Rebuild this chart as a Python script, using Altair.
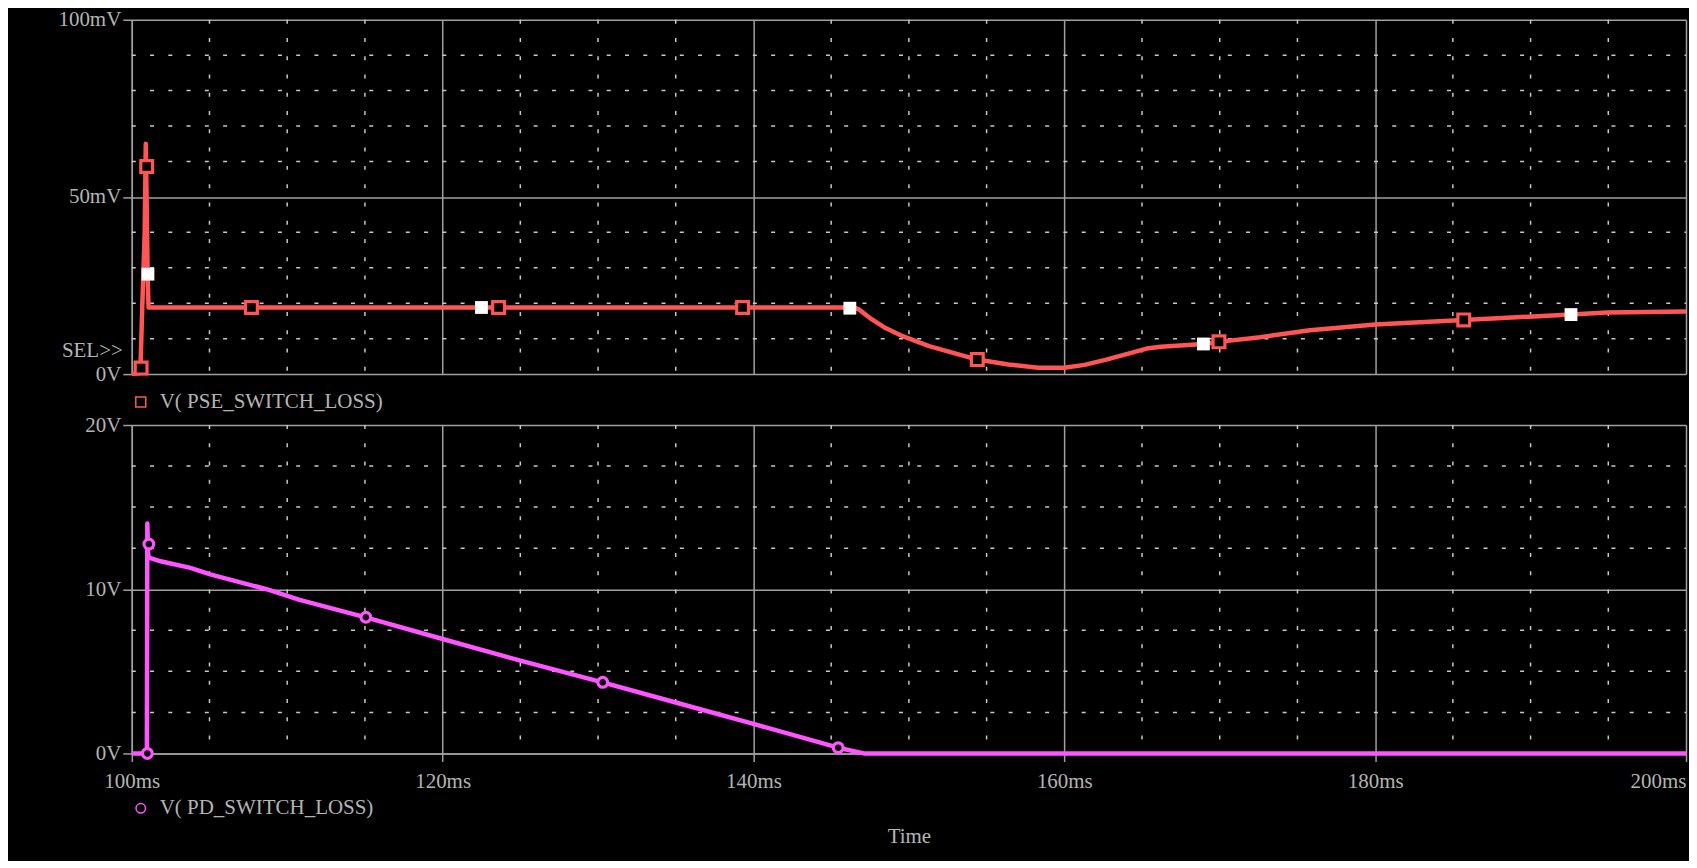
import altair as alt
import pandas as pd

# ---------------- data ----------------
# V(PSE_SWITCH_LOSS) in mV vs time in ms
pse_t = [100.0, 100.55, 100.68, 100.83, 100.9, 100.97, 101.02, 101.08, 146.5, 146.8, 147.6,
         148.5, 149.6, 151.3, 154.4, 156.4, 158.3, 160.0, 161.3, 162.7, 165.3, 166.2,
         168.95, 169.95, 172.6, 175.8, 180.0, 185.7, 192.6, 194.9, 200.0]
pse_v = [0.0, 0.3, 19.7, 40.0, 65.0, 45.0, 28.0, 18.8, 18.8, 18.2, 15.5,
         13.0, 10.7, 7.9, 4.1, 2.7, 1.8, 1.8, 2.6, 4.1, 7.2, 7.7,
         8.5, 9.1, 10.4, 12.4, 14.0, 15.3, 16.8, 17.4, 17.7]
pse_open_t = [100.6, 100.96, 107.7, 123.6, 139.3, 154.4, 169.95, 185.7]
pse_open_v = [1.7, 58.6, 18.8, 18.8, 18.8, 4.1, 9.1, 15.3]
pse_white_t = [101.04, 122.5, 146.2, 168.95, 192.6]
pse_white_v = [28.2, 18.8, 18.6, 8.5, 16.8]

# V(PD_SWITCH_LOSS) in V vs time in ms
pd_t = [100.0, 100.97, 101.0, 101.05, 101.1, 101.85, 103.77, 105.05, 108.67, 110.8,
        115.06, 120.0, 125.0, 130.3, 135.0, 140.0, 145.45, 147.1, 200.0]
pd_v = [0.0, 0.0, 14.0, 12.2, 11.93, 11.7, 11.3, 10.9, 10.0, 9.35,
        8.29, 6.97, 5.65, 4.33, 3.1, 1.8, 0.35, 0.0, 0.0]
pd_mark_t = [101.0, 101.1, 115.06, 130.3, 145.45]
pd_mark_v = [0.0, 12.75, 8.29, 4.33, 0.35]

# axes / grids
x_major = [100, 120, 140, 160, 180, 200]
x_minor = [105, 110, 115, 125, 130, 135, 145, 150, 155, 165, 170, 175, 185, 190, 195]
top_major = [0, 50, 100]
top_minor = [10, 20, 30, 40, 60, 70, 80, 90]
bot_major = [0, 10, 20]
bot_minor = [2.5, 5, 7.5, 12.5, 15, 17.5]

legend_top = ["V( PSE_SWITCH_LOSS)"]
legend_bot = ["V( PD_SWITCH_LOSS)"]
sel_label = ["SEL>>"]

# ---------------- style ----------------
RED = "#ff5555"
MAG = "#ff55ff"
GRID = "#a0a0a0"
DOT = "#c8c8c8"
TXT = "#b4b4b4"
FONT = "Liberation Serif"
FS = 21
W = 1557
H1 = 355
H2 = 329

xs = alt.Scale(domain=[100, 200], nice=False, zero=False)


def minor_layers(ydom, yminor, h):
    ys = alt.Scale(domain=ydom, nice=False)
    vx = alt.Chart(pd.DataFrame({"t": x_minor})).mark_rule(
        color=DOT, strokeWidth=1.5, strokeDash=[4, 14.3]
    ).encode(x=alt.X("t:Q", scale=xs), y=alt.value(0), y2=alt.value(h))
    hy = alt.Chart(pd.DataFrame({"v": yminor})).mark_rule(
        color=DOT, strokeWidth=1.5, strokeDash=[4, 14.3]
    ).encode(y=alt.Y("v:Q", scale=ys), x=alt.value(0), x2=alt.value(W))
    return vx, hy


# ---------------- top panel ----------------
top_x_axis = alt.Axis(values=x_major, grid=True, labels=False, ticks=False, domain=False, title=None)
top_y = alt.Y("v:Q", scale=alt.Scale(domain=[0, 100], nice=False),
              axis=alt.Axis(values=top_major, grid=True, tickSize=9, title=None,
                            labelExpr="datum.value == 0 ? '0V' : datum.value + 'mV'"))

tv, th = minor_layers([0, 100], top_minor, H1)
top_line = alt.Chart(pd.DataFrame({"t": pse_t, "v": pse_v})).mark_line(
    color=RED, strokeWidth=4.5, strokeJoin="round"
).encode(x=alt.X("t:Q", scale=xs, axis=top_x_axis), y=top_y)
top_open = alt.Chart(pd.DataFrame({"t": pse_open_t, "v": pse_open_v})).mark_point(
    shape="square", size=140, filled=True, fill="black", stroke=RED, strokeWidth=3.2, opacity=1
).encode(x=alt.X("t:Q", scale=xs), y=alt.Y("v:Q"))
top_white = alt.Chart(pd.DataFrame({"t": pse_white_t, "v": pse_white_v})).mark_point(
    shape="square", size=165, filled=True, fill="white", strokeWidth=0, opacity=1
).encode(x=alt.X("t:Q", scale=xs), y=alt.Y("v:Q"))
top_leg_sym = alt.Chart(pd.DataFrame({"name": legend_top})).mark_point(
    shape="square", size=100, filled=False, color=RED, strokeWidth=1.5, opacity=1
).encode(x=alt.value(9), y=alt.value(383))
top_leg_txt = alt.Chart(pd.DataFrame({"name": legend_top})).mark_text(
    align="left", baseline="middle", font=FONT, fontSize=FS, color=TXT
).encode(x=alt.value(28), y=alt.value(383), text="name:N")
sel_txt = alt.Chart(pd.DataFrame({"name": sel_label})).mark_text(
    align="right", baseline="middle", font=FONT, fontSize=FS, color=TXT
).encode(x=alt.value(-9), y=alt.value(332), text="name:N")

top = alt.layer(tv, th, top_line, top_open, top_white, top_leg_sym, top_leg_txt, sel_txt).properties(
    width=W, height=H1)

# ---------------- bottom panel ----------------
bot_x_axis = alt.Axis(values=x_major, grid=True, tickSize=8, title="Time", titlePadding=34,
                      labelExpr="datum.value + 'ms'",
                      labelAlign=alt.ExprRef(expr="datum.value == 200 ? 'right' : 'center'"),
                      labelPadding=9)
bot_y = alt.Y("v:Q", scale=alt.Scale(domain=[0, 20], nice=False),
              axis=alt.Axis(values=bot_major, grid=True, tickSize=9, title=None,
                            labelExpr="datum.value + 'V'"))
bv, bh = minor_layers([0, 20], bot_minor, H2)
bot_line = alt.Chart(pd.DataFrame({"t": pd_t, "v": pd_v})).mark_line(
    color=MAG, strokeWidth=4.5, strokeJoin="round"
).encode(x=alt.X("t:Q", scale=xs, axis=bot_x_axis), y=bot_y)
bot_marks = alt.Chart(pd.DataFrame({"t": pd_mark_t, "v": pd_mark_v})).mark_point(
    shape="circle", size=95, filled=True, fill="black", stroke=MAG, strokeWidth=3.2, opacity=1
).encode(x=alt.X("t:Q", scale=xs), y=alt.Y("v:Q"))
bot_leg_sym = alt.Chart(pd.DataFrame({"name": legend_bot})).mark_point(
    shape="circle", size=90, filled=False, color=MAG, strokeWidth=1.5, opacity=1
).encode(x=alt.value(9), y=alt.value(384))
bot_leg_txt = alt.Chart(pd.DataFrame({"name": legend_bot})).mark_text(
    align="left", baseline="middle", font=FONT, fontSize=FS, color=TXT
).encode(x=alt.value(28), y=alt.value(384), text="name:N")

bottom = alt.layer(bv, bh, bot_line, bot_marks, bot_leg_sym, bot_leg_txt).properties(
    width=W, height=H2)

chart = alt.vconcat(top, bottom, spacing=51, bounds="flush").properties(
    padding={"left": 50, "top": 0, "right": 0, "bottom": 14}
).configure(background="black").configure_view(strokeWidth=0).configure_axis(
    labelFont=FONT, labelFontSize=FS, labelColor=TXT,
    titleFont=FONT, titleFontSize=FS, titleColor=TXT, titleFontWeight="normal",
    gridColor=GRID, gridWidth=1.5, gridOpacity=1,
    domainColor=GRID, domainWidth=1.5, tickColor=GRID, tickWidth=1.5, labelPadding=2
)

chart.save("out.html", embed_options={"renderer": "svg", "actions": False})
